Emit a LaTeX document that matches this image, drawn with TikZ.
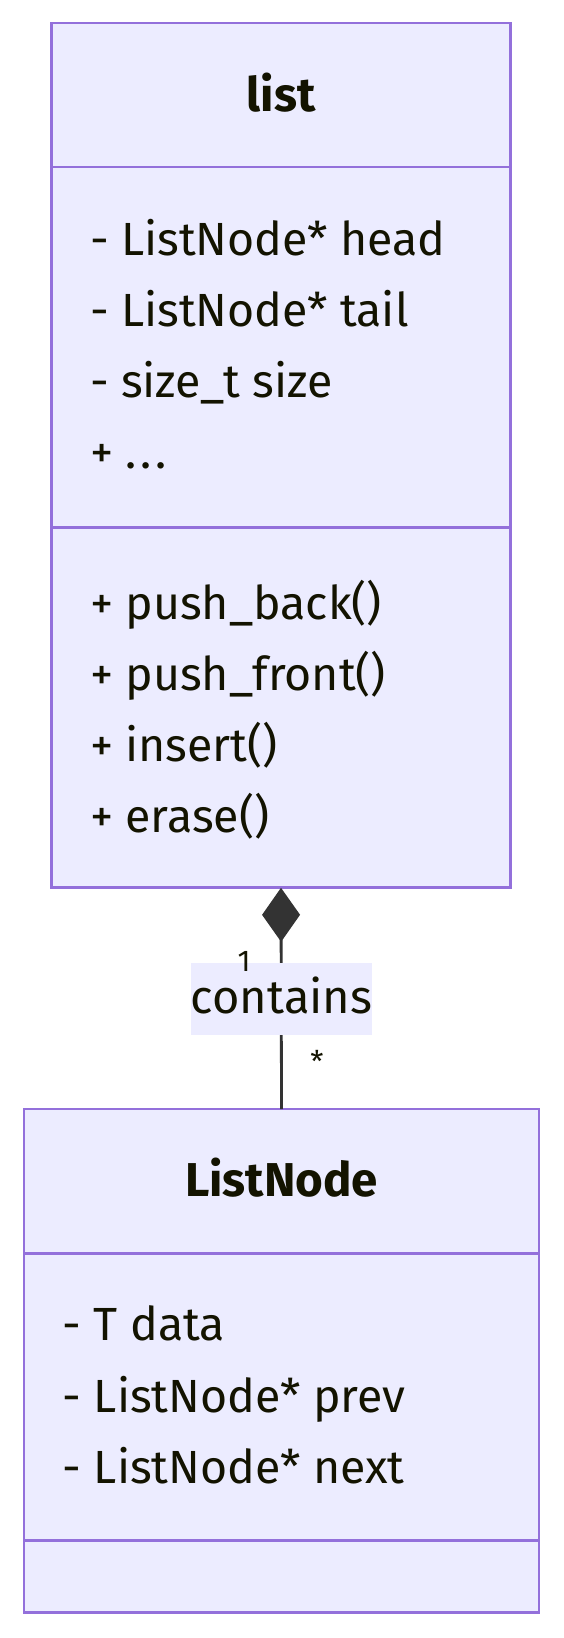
\documentclass[tikz,border=0pt]{standalone}
\usepackage{fontspec}
\setmainfont{Fira Sans}
\usetikzlibrary{arrows.meta}
\definecolor{boxfill}{HTML}{ECECFF}
\definecolor{boxline}{HTML}{9370DB}
\definecolor{edgecol}{HTML}{333333}
\definecolor{txt}{HTML}{131300}
\tikzset{
  classbox/.style={draw=boxline, fill=boxfill, line width=2.8pt, inner sep=0pt, outer sep=0pt},
  divider/.style={draw=boxline, line width=2.8pt},
  member/.style={anchor=base west, inner sep=0pt, text=txt, font=\fontsize{46.5}{54}\selectfont},
  ctitle/.style={anchor=base, inner sep=0pt, text=txt, font=\fontsize{47.5}{54}\selectfont\bfseries},
  conn/.style={draw=edgecol, line width=2.8pt},
  lbl/.style={fill=boxfill, inner sep=0pt, text=txt, font=\fontsize{47}{54}\selectfont, text height=30pt, text depth=0pt},
  mult/.style={anchor=base, inner sep=0pt, text=txt, font=\fontsize{30}{36}\selectfont}
}
\begin{document}
\begin{tikzpicture}[x=1pt,y=-1pt]
\useasboundingbox (0,0) rectangle (563,1638);
% list class
\node[classbox, minimum width=459.6pt, minimum height=864.8pt] (list) at (281,455.4) {};
\draw[divider] (51.2,167) -- (510.8,167);
\draw[divider] (51.2,527.5) -- (510.8,527.5);
\node[ctitle] (listT) at (281,111) {list};
\node[member] (a1) at (89.8,255) {- ListNode* head};
\node[member] (a2) at (89.8,326) {- ListNode* tail};
\node[member] (a3) at (89.8,397) {- size\_t size};
\node[member] (a4) at (89.8,468) {+ .\kern4pt.\kern4pt.};
\node[member] (m1) at (89.8,619) {+ push\_back()};
\node[member] (m2) at (89.8,690) {+ push\_front()};
\node[member] (m3) at (89.8,761) {+ insert()};
\node[member] (m4) at (89.8,832) {+ erase()};
% ListNode class
\node[classbox, minimum width=515pt, minimum height=503.7pt] (ListNode) at (281.5,1360.85) {};
\draw[divider] (24,1253.4) -- (539,1253.4);
\draw[divider] (24,1540.7) -- (539,1540.7);
\node[ctitle] (lnT) at (281.5,1196) {ListNode};
\node[member] (b1) at (62.7,1340) {- T data};
\node[member] (b2) at (62.7,1412) {- ListNode* prev};
\node[member] (b3) at (62.7,1483) {- ListNode* next};
% connector
\draw[conn, {Diamond[length=54pt,width=38pt,fill=edgecol]}-] (list.south) -- (ListNode.north);
\node[lbl, minimum width=181pt, minimum height=72pt] (contains) at (281.7,998.5) {contains};
\node[mult] (one) at (244,971) {1};
\node[mult] (star) at (317,1072) {*};
\end{tikzpicture}
\end{document}
